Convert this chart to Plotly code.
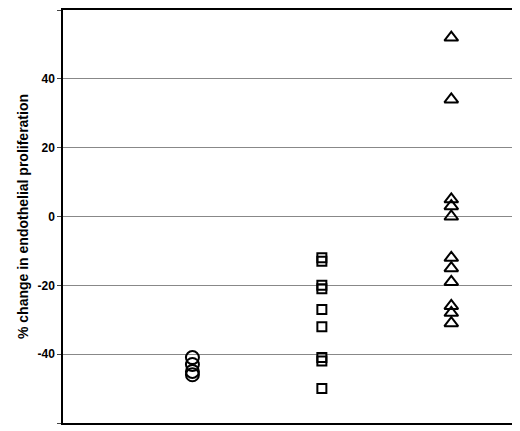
import plotly.graph_objects as go

circle_vals = [-41, -43, -45, -46]
square_vals = [-12, -13, -20, -21, -27, -32, -41, -42, -50]
triangle_vals = [52, 34, 5, 3, 0, -12, -15, -19, -26, -28, -31]
y_ticks = [-60, -40, -20, 0, 20, 40, 60]

fig = go.Figure()
for xpos, vals, sym, size in [(1, circle_vals, "circle-open", 13),
                              (2, square_vals, "square-open", 9),
                              (3, triangle_vals, "triangle-up-open", 12)]:
    fig.add_trace(go.Scatter(x=[xpos] * len(vals), y=vals, mode="markers",
                             marker=dict(symbol=sym, size=size, color="black",
                                         line=dict(width=2, color="black")),
                             showlegend=False))

# page body has an 8px margin, so the figure is shrunk to fit the window
fig.update_layout(
    width=510, height=421, plot_bgcolor="white", paper_bgcolor="white",
    margin=dict(l=55, r=2, t=0, b=6),
    font=dict(family="Liberation Sans, Arial", color="black"),
)
fig.update_xaxes(range=[0, 3.5], showticklabels=False, showgrid=False,
                 showline=True, linecolor="black", linewidth=1.5, mirror=True, zeroline=False)
fig.update_yaxes(range=[-60, 60], tickvals=y_ticks, ticktext=[str(v) for v in y_ticks],
                 showgrid=True, gridcolor="#888",
                 gridwidth=1, zeroline=False, showline=True, linecolor="black",
                 linewidth=1.5, mirror=True, ticks="outside", ticklen=4,
                 tickfont=dict(size=12, weight="bold"),
                 title=dict(text="% change in endothelial proliferation",
                            font=dict(size=14, weight="bold"), standoff=6))
fig.write_html("out.html")
